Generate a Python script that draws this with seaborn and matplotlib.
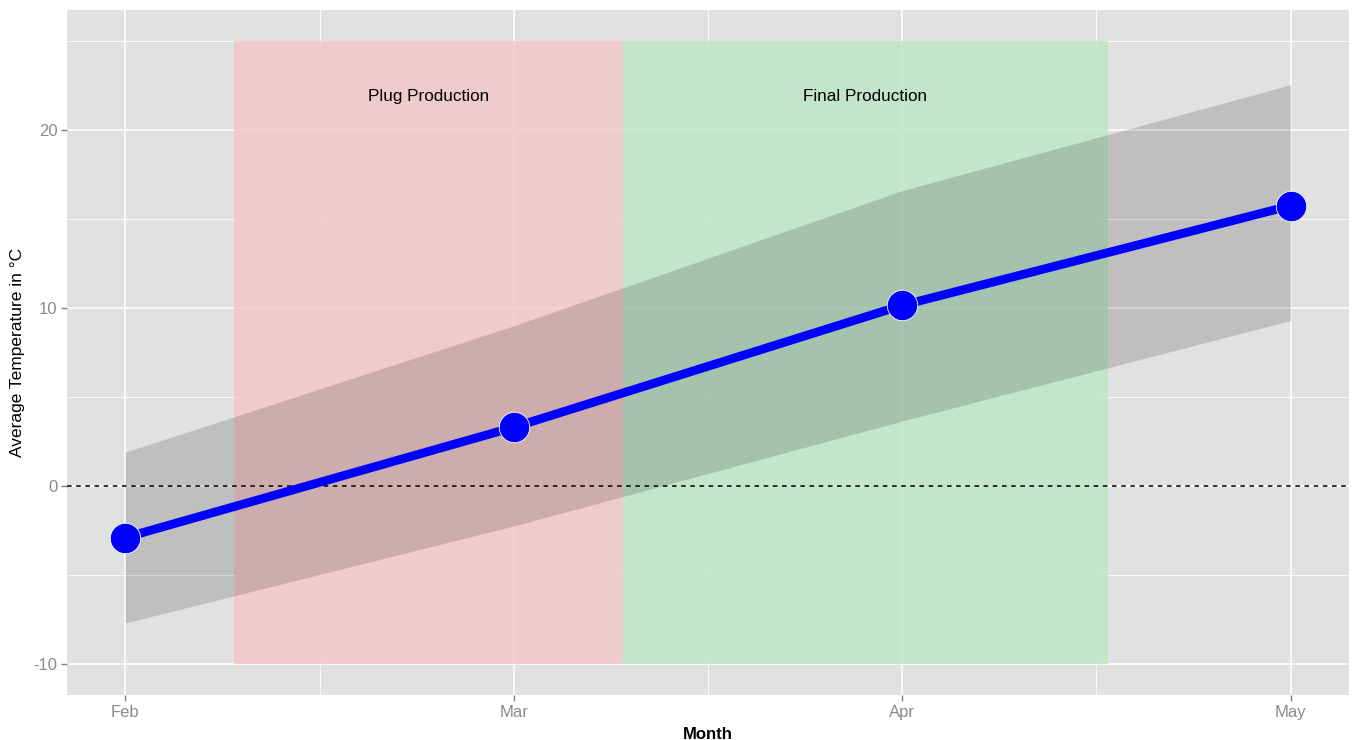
import numpy as np
import pandas as pd
import matplotlib
matplotlib.use("Agg")
import matplotlib.pyplot as plt
import seaborn as sns
from matplotlib.ticker import FixedLocator

# ---- data ----
months = [2, 3, 4, 5]
month_labels = ["Feb", "Mar", "Apr", "May"]
avg_temp = [-2.9, 3.3, 10.15, 15.75]
temp_lower = [-7.7, -2.25, 3.65, 9.3]
temp_upper = [1.9, 9.0, 16.6, 22.55]

phase_names = ["Plug Production", "Final Production"]
phase_start = [2.28, 3.28]
phase_end = [3.28, 4.53]
phase_ymin = -10
phase_ymax = 25
phase_label_y = 21.9
phase_colors = [(243/255, 200/255, 200/255), (190/255, 231/255, 200/255)]

df = pd.DataFrame({"month": months, "temp": avg_temp})

sns.set_theme(style="darkgrid")
plt.rcParams["font.family"] = ["Liberation Sans", "DejaVu Sans"]
plt.rcParams["axes.unicode_minus"] = False

fig = plt.figure(figsize=(13.53, 7.40), dpi=100)
ax = fig.add_axes([67/1353, 45/740, (1349-67)/1353, (695-10)/740])
ax.set_facecolor("#E1E1E1")

# phase rectangles
for name, x0, x1, c in zip(phase_names, phase_start, phase_end, phase_colors):
    ax.fill_between([x0, x1], phase_ymin, phase_ymax, color=c, alpha=0.85,
                    linewidth=0, zorder=1)
    ax.text((x0 + x1) / 2, phase_label_y, name, ha="center", va="center",
            fontsize=12.3, color="black", zorder=6)

# ribbon
ax.fill_between(months, temp_lower, temp_upper, color="black", alpha=0.15,
                linewidth=0, zorder=2)

# zero line
ax.axhline(0, color="black", linestyle=(0, (3, 3)), linewidth=1.1, zorder=3)

# line and points
sns.lineplot(data=df, x="month", y="temp", color="#0000FF", linewidth=6.3,
             ax=ax, zorder=4)
sns.scatterplot(data=df, x="month", y="temp", color="#0000FF", s=480,
                edgecolor="white", linewidth=0.6, ax=ax, zorder=5)

# axes
ax.set_xlim(1.85, 5.15)
ax.set_ylim(-11.75, 26.75)
ax.set_xticks(months)
ax.set_xticklabels(month_labels)
ax.set_yticks([-10, 0, 10, 20])
ax.xaxis.set_minor_locator(FixedLocator([2.5, 3.5, 4.5]))
ax.yaxis.set_minor_locator(FixedLocator([-5, 5, 15, 25]))
ax.grid(which="major", color="white", linewidth=1.2, zorder=0)
ax.grid(which="minor", color="white", linewidth=0.6, zorder=0)
ax.set_axisbelow(True)
for s in ax.spines.values():
    s.set_visible(False)
ax.tick_params(axis="both", which="major", length=4, width=1, color="#7F7F7F",
               labelcolor="#8A8A8A", labelsize=12, pad=3, bottom=True, left=True)
ax.tick_params(axis="both", which="minor", length=0)

ax.set_xlabel("Month", fontsize=12, fontweight="bold", color="black", labelpad=5)
ax.set_ylabel("Average Temperature in °C", fontsize=12.5, color="black")
ax.yaxis.set_label_coords(-0.033, 0.5)

fig.savefig("out.png", dpi=100)
